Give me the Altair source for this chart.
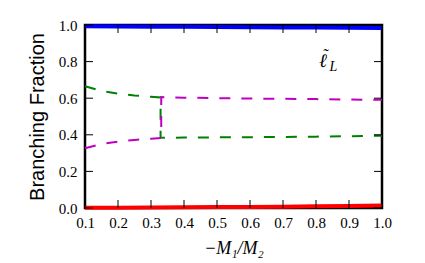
import altair as alt
import pandas as pd

# ---- data ----
x_solid = [0.1, 0.2, 0.3, 0.4, 0.5, 0.6, 0.7, 0.8, 0.9, 1.0]
blue_y = [0.993, 0.992, 0.991, 0.990, 0.989, 0.988, 0.987, 0.986, 0.985, 0.984]
red_y = [0.001, 0.002, 0.003, 0.004, 0.005, 0.006, 0.007, 0.009, 0.011, 0.013]

green_x = [0.1, 0.15, 0.2, 0.25, 0.3, 0.329, 0.329, 0.35, 0.4, 0.5, 0.6, 0.7, 0.8, 0.9, 1.0]
green_y = [0.665, 0.640, 0.625, 0.615, 0.608, 0.604, 0.385, 0.384, 0.385, 0.386, 0.387, 0.388, 0.390, 0.392, 0.395]
magenta_x = [0.1, 0.15, 0.2, 0.25, 0.3, 0.331, 0.331, 0.35, 0.4, 0.5, 0.6, 0.7, 0.8, 0.9, 1.0]
magenta_y = [0.327, 0.350, 0.362, 0.372, 0.379, 0.383, 0.606, 0.605, 0.603, 0.600, 0.598, 0.597, 0.595, 0.593, 0.591]

x_ticks = [0.1, 0.2, 0.3, 0.4, 0.5, 0.6, 0.7, 0.8, 0.9, 1.0]
y_ticks = [0.0, 0.2, 0.4, 0.6, 0.8, 1.0]

# annotation: ℓ with a tilde and subscript L
ann_text = ["ℓ", "˜", "L"]
ann_x = [0.821, 0.828, 0.853]
ann_y = [0.805, 0.835, 0.772]
ann_size = [19, 16, 14]

W, H = 297, 183

solid = pd.DataFrame({"x": x_solid, "blue": blue_y, "red": red_y})
green = pd.DataFrame({"x": green_x, "y": green_y, "o": list(range(len(green_x)))})
magenta = pd.DataFrame({"x": magenta_x, "y": magenta_y, "o": list(range(len(magenta_x)))})
xt = pd.DataFrame({"t": x_ticks})
yt = pd.DataFrame({"t": y_ticks})
ann = pd.DataFrame({"x": ann_x, "y": ann_y, "s": ann_text, "size": ann_size})

xscale = alt.Scale(domain=[0.1, 1.0], nice=False, zero=False)
yscale = alt.Scale(domain=[0.0, 1.0], nice=False, zero=False)

xaxis = alt.Axis(values=x_ticks, format=".1f", title="−M₁/M₂", labelOverlap=False, labelFlush=False,
                 labelPadding=7, labelFont="Liberation Serif", labelFontSize=15,
                 titleFont="Liberation Serif", titleFontStyle="italic",
                 titleFontSize=18, titlePadding=9)
yaxis = alt.Axis(values=y_ticks, format=".1f", title="Branching Fraction", labelOverlap=False,
                 labelFlush=False, labelPadding=8, labelFont="Liberation Serif", labelFontSize=15,
                 titleFont="Liberation Sans", titleFontSize=20, titlePadding=11)

def X(f):
    return alt.X(f, scale=xscale, axis=xaxis)

def Y(f):
    return alt.Y(f, scale=yscale, axis=yaxis)

green_line = alt.Chart(green).mark_line(color="#008000", strokeWidth=2, strokeDash=[11, 11], clip=False).encode(
    x=X("x:Q"), y=Y("y:Q"), order="o:Q")
magenta_line = alt.Chart(magenta).mark_line(color="#bf00bf", strokeWidth=2, strokeDash=[11, 11], clip=False).encode(
    x=X("x:Q"), y=Y("y:Q"), order="o:Q")
blue_line = alt.Chart(solid).mark_line(color="#0000ff", strokeWidth=4, clip=False).encode(
    x=X("x:Q"), y=Y("blue:Q"))
red_line = alt.Chart(solid).mark_line(color="#ff0000", strokeWidth=4, clip=False).encode(
    x=X("x:Q"), y=Y("red:Q"))

tick_style = dict(color="black", strokeWidth=1)
xt_bottom = alt.Chart(xt).mark_rule(**tick_style).encode(x=X("t:Q"), y=alt.value(H), y2=alt.value(H - 8))
xt_top = alt.Chart(xt).mark_rule(**tick_style).encode(x=X("t:Q"), y=alt.value(0), y2=alt.value(8))
yt_left = alt.Chart(yt).mark_rule(**tick_style).encode(y=Y("t:Q"), x=alt.value(0), x2=alt.value(8))
yt_right = alt.Chart(yt).mark_rule(**tick_style).encode(y=Y("t:Q"), x=alt.value(W), x2=alt.value(W - 8))

ann_text_mark = alt.Chart(ann).mark_text(font="Liberation Serif", fontStyle="italic",
                                         color="black", align="center", baseline="middle").encode(
    x=X("x:Q"), y=Y("y:Q"), text="s:N", size=alt.Size("size:Q", scale=None, legend=None))

chart = alt.layer(
    green_line, magenta_line, blue_line, red_line,
    xt_bottom, xt_top, yt_left, yt_right, ann_text_mark
).properties(
    width=W, height=H, padding={"left": 19, "top": 10, "right": 5, "bottom": 5},
    background="white"
).configure_view(
    stroke="black", strokeWidth=2.5
).configure_axis(
    domain=False, ticks=False, tickSize=0, grid=False,
    labelFont="Liberation Serif", labelFontSize=15, labelColor="black",
    titleColor="black", titleFontWeight="normal"
)

chart.save("out.html", embed_options={"renderer": "svg", "actions": False})
